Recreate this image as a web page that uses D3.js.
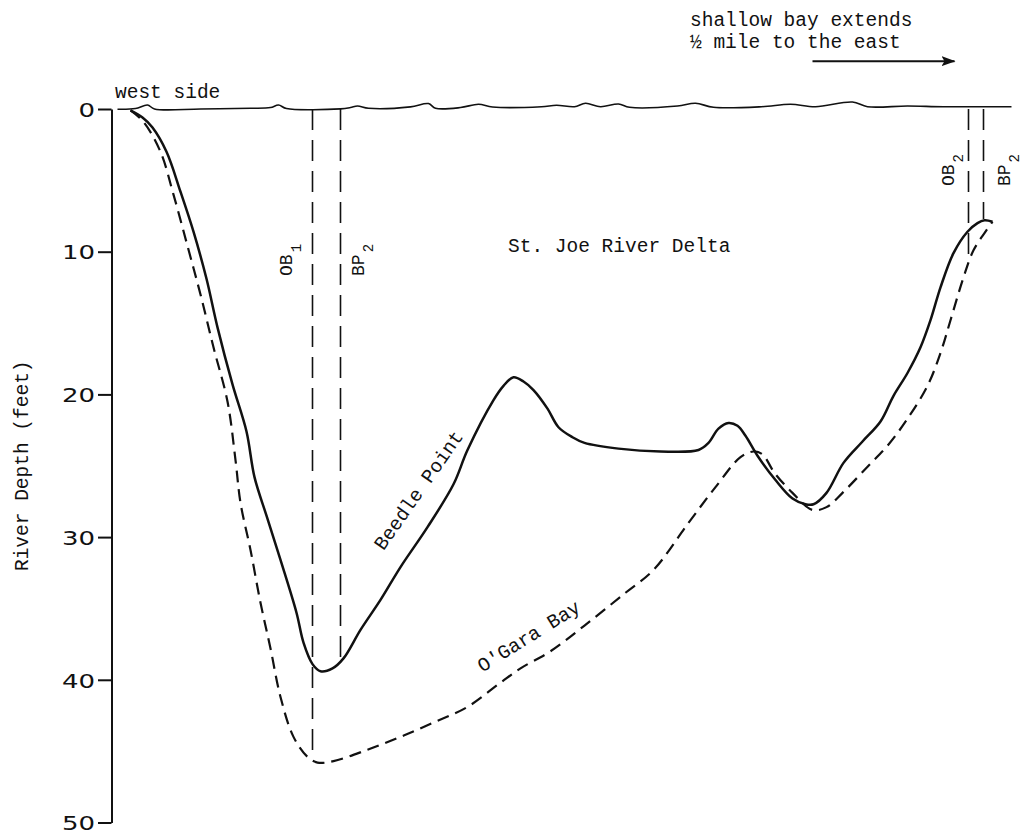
<!DOCTYPE html>
<html>
<head>
<meta charset="utf-8">
<script src="https://cdn.jsdelivr.net/npm/d3@7"></script>
<style>
body { margin: 0; background: #fff; }
text { font-family: "Liberation Mono", "DejaVu Sans Mono", monospace; fill: #111; }
</style>
</head>
<body>
<div id="chart"></div>
<script>
// distance across the section (0 = west bank, no units on the original), depth in feet
var beedle_x = [1.9, 3.1, 4.1, 5.5, 6.9, 8.2, 9.5, 10.6, 12.1, 13.5, 14.3, 15.5, 16.9, 18.5, 19.2,
		20.1, 20.9, 22.1, 23.2, 24.9, 26.9, 28.9, 31.6, 34.2, 35.6, 38.2, 39.2, 40.2, 41.2,
		42.2, 43.6, 44.7, 46.1, 47.3, 50.7, 54.9, 58.7, 59.7, 60.7, 61.7, 62.6, 63.4, 64.6,
		66.4, 68.1, 69.4, 70.2, 71.5, 73.2, 75.1, 76.9, 78.2, 79.6, 80.9, 81.9, 82.9, 84.2,
		85.6, 86.6, 87.3, 88.1];
var beedle_depth = [0.1, 0.6, 1.3, 3.0, 5.8, 8.6, 11.9, 15.3, 19.3, 22.6, 25.8, 28.5, 31.6, 35.3, 37.4,
		    38.9, 39.4, 39.2, 38.5, 36.5, 34.4, 32.1, 29.3, 26.3, 23.9, 20.4, 19.4, 18.8, 19.1,
		    19.7, 21.0, 22.3, 23.0, 23.4, 23.8, 24.0, 23.9, 23.4, 22.4, 22.0, 22.2, 22.9, 24.3,
		    26.0, 27.3, 27.7, 27.7, 26.9, 24.8, 23.3, 21.9, 20.1, 18.5, 16.7, 14.8, 12.5, 10.1,
		    8.6, 8.0, 7.8, 7.9];

var ogara_x = [1.9, 3.2, 4.9, 6.2, 7.6, 8.9, 10.2, 11.6, 12.4, 12.9, 13.9, 14.9, 15.9, 16.9, 18.2,
	       19.6, 20.6, 22.2, 25.6, 28.9, 32.2, 35.6, 38.9, 40.9, 43.9, 47.3, 51.4, 54.2, 57.7,
	       60.4, 62.9, 64.2, 65.1, 66.3, 68.1, 70.1, 71.5, 73.1, 75.7, 77.6, 79.6, 81.6, 82.9,
	       83.9, 85.2, 86.2, 87.4, 88.1];
var ogara_depth = [0.1, 0.9, 3.0, 6.0, 9.6, 13.0, 16.7, 20.5, 24.6, 27.6, 30.9, 34.6, 37.8, 41.2, 44.0,
		   45.4, 45.8, 45.7, 44.9, 44.0, 43.0, 41.9, 40.2, 39.2, 38.0, 36.2, 33.9, 32.3, 29.0,
		   26.5, 24.4, 24.0, 24.2, 25.5, 26.9, 28.1, 27.9, 26.9, 25.0, 23.6, 21.7, 19.4, 17.1,
		   14.8, 11.8, 9.9, 8.6, 7.9];

// water surface, slightly wavy
var surface_x = [0.6, 2.4, 3.6, 4.3, 8.9, 13.9, 15.9, 16.7, 17.5, 22.9, 23.9, 24.6, 25.7, 29.9, 31.7,
		 32.4, 34.9, 36.7, 38.1, 43.0, 44.5, 46.3, 47.4, 48.9, 50.7, 51.8, 56.6, 58.4, 60.2,
		 65.0, 67.9, 70.4, 74.1, 75.6, 79.6, 83.2, 90.0];
var surface_depth = [0.02, -0.03, -0.28, 0, 0, -0.05, -0.1, -0.28, -0.03, -0.01, -0.1, -0.21, -0.05, -0.15, -0.38,
		     -0.05, -0.1, -0.33, -0.14, -0.16, -0.26, -0.16, -0.4, -0.16, -0.35, -0.12, -0.21, -0.4, -0.12,
		     -0.16, -0.33, -0.16, -0.49, -0.16, -0.21, -0.16, -0.16];

var depth_ticks = [0, 10, 20, 30, 40, 50];

// sampling stations: name, subscript, position, depth where the drop line stops
var station_name = ["OB", "BP", "OB", "BP"];
var station_sub = ["1", "2", "2", "2"];
var station_x = [20.1, 22.9, 85.7, 87.2];
var station_depth = [45.4, 38.5, 10.7, 7.7];

var width = 1023, height = 837;

var svg = d3.select("#chart")
    .append("svg")
    .attr("width", width)
    .attr("height", height);

var scale_x = d3.scaleLinear()
    .domain([0, 90])
    .range([111.5, 1011.5]);

var scale_y = d3.scaleLinear()
    .domain([0, 50])
    .range([109, 822.5]);

function zip(xs, ys) {
    return xs.map(function(d, i) { return [d, ys[i]]; });
}

var line = d3.line()
    .x(function(d) { return scale_x(d[0]); })
    .y(function(d) { return scale_y(d[1]); })
    .curve(d3.curveCatmullRom.alpha(0.5));

// depth axis
var axis = svg.append("g")
    .attr("transform", "translate(" + scale_x(0) + ",0)")
    .call(d3.axisLeft(scale_y)
	  .tickValues(depth_ticks)
	  .tickSize(13.5)
	  .tickSizeOuter(0));
axis.select(".domain").attr("stroke", "#111").attr("stroke-width", 2);
axis.selectAll(".tick line").attr("stroke", "#111").attr("stroke-width", 2);
axis.selectAll(".tick text")
    .attr("x", null)
    .attr("dy", "0.36em")
    .attr("transform", "translate(-16.5,0) scale(1.3,1)")
    .style("font-family", "'DejaVu Sans', sans-serif")
    .style("font-size", "20px")
    .attr("fill", "#111");

svg.append("text")
    .attr("transform", "translate(28," + scale_y(25) + ") rotate(-90)")
    .attr("text-anchor", "middle")
    .style("font-size", "19.5px")
    .text("River Depth (feet)");

// surface
svg.append("path")
    .attr("d", line(zip(surface_x, surface_depth)))
    .attr("fill", "none")
    .attr("stroke", "#111")
    .attr("stroke-width", 1.6);

// station drop lines
svg.append("g")
    .selectAll("line")
    .data(station_x)
    .enter()
    .append("line")
    .attr("x1", function(d) { return scale_x(d); })
    .attr("x2", function(d) { return scale_x(d); })
    .attr("y1", scale_y(0))
    .attr("y2", function(d, i) { return scale_y(station_depth[i]); })
    .attr("stroke", "#111")
    .attr("stroke-width", 1.6)
    .attr("stroke-dasharray", "21,10");

// O'Gara Bay profile (dashed)
svg.append("path")
    .attr("d", line(zip(ogara_x, ogara_depth)))
    .attr("fill", "none")
    .attr("stroke", "#111")
    .attr("stroke-width", 2.2)
    .attr("stroke-dasharray", "12,7");

// Beedle Point profile (solid)
svg.append("path")
    .attr("d", line(zip(beedle_x, beedle_depth)))
    .attr("fill", "none")
    .attr("stroke", "#111")
    .attr("stroke-width", 2.5);

// station labels, rotated, reading upward
var label_pos = [[18.05, 11.7], [25.2, 11.7], [84.2, 5.4], [89.85, 5.4]];
label_pos.forEach(function(p, i) {
    var t = svg.append("text")
	.attr("transform", "translate(" + scale_x(p[0]) + "," + scale_y(p[1]) + ") rotate(-90)")
	.style("font-size", "18px");
    t.append("tspan").text(station_name[i]);
    t.append("tspan")
	.attr("dx", 2)
	.attr("dy", 9)
	.style("font-size", "14px")
	.text(station_sub[i]);
});

// annotations
var notes = [
    {text: "west side", x: 0.35, depth: -0.75, rot: 0},
    {text: "St. Joe River Delta", x: 39.65, depth: 10.0, rot: 0},
    {text: "shallow bay extends", x: 57.85, depth: -5.85, rot: 0},
    {text: "\u00bd mile to the east", x: 57.85, depth: -4.25, rot: 0},
    {text: "Beedle Point", x: 27.2, depth: 31.0, rot: -55},
    {text: "O'Gara Bay", x: 37.1, depth: 39.5, rot: -32}
];
notes.forEach(function(d) {
    svg.append("text")
	.attr("transform", "translate(" + scale_x(d.x) + "," + scale_y(d.depth) + ") rotate(" + d.rot + ")")
	.style("font-size", "19.5px")
	.text(d.text);
});

// arrow toward the east
svg.append("defs")
    .append("marker")
    .attr("id", "head")
    .attr("markerUnits", "userSpaceOnUse")
    .attr("markerWidth", 14)
    .attr("markerHeight", 10)
    .attr("refX", 13)
    .attr("refY", 5)
    .attr("orient", "auto")
    .append("path")
    .attr("d", "M0,0 L14,5 L0,10 L3,5 z")
    .attr("fill", "#111");

svg.append("line")
    .attr("x1", scale_x(70.1))
    .attr("x2", scale_x(84.3))
    .attr("y1", scale_y(-3.35))
    .attr("y2", scale_y(-3.35))
    .attr("stroke", "#111")
    .attr("stroke-width", 2)
    .attr("marker-end", "url(#head)");
</script>
</body>
</html>
